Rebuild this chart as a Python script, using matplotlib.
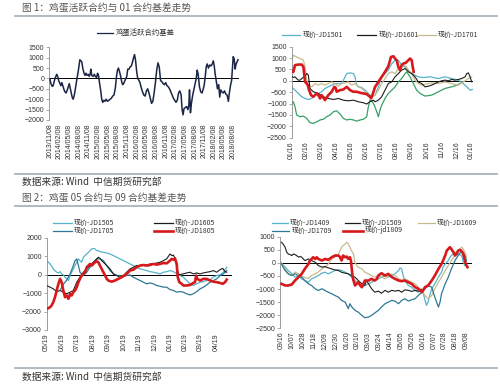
import matplotlib
matplotlib.use('Agg')
import matplotlib.pyplot as plt
from matplotlib.lines import Line2D

plt.rcParams['font.family'] = ['Noto Sans CJK SC', 'DejaVu Sans']

W, H = 500, 386

# ---- figure 1 left: active contract basis (x = months from 2013/11/08)
labels1 = ['2013/11/08', '2014/02/08', '2014/05/08', '2014/08/08', '2014/11/08',
           '2015/02/08', '2015/05/08', '2015/08/08', '2015/11/08', '2016/02/08',
           '2016/05/08', '2016/08/08', '2016/11/08', '2017/02/08', '2017/05/08',
           '2017/08/08', '2017/11/08', '2018/02/08', '2018/05/08', '2018/08/08']
m_active = [0.0, 0.3, 0.7, 1.0, 1.3, 1.7, 2.1, 2.4, 2.7, 3.1, 3.4, 3.7, 4.1, 4.4, 4.7, 5.0,
            5.3, 5.7, 6.0, 6.4, 6.9, 7.2, 7.5, 7.8, 8.3, 8.8, 9.3, 9.6, 9.9, 10.2, 10.6,
            10.9, 11.2, 11.5, 11.9, 12.2, 12.5, 12.7, 13.0, 13.4, 13.8, 14.1, 14.5, 14.8,
            15.1, 15.4, 15.8, 16.1, 16.4, 16.8, 17.1, 17.5, 17.9, 18.3, 18.7, 19.1, 19.5,
            19.9, 20.3, 20.7, 21.0, 21.3, 21.6, 22.0, 22.3, 22.6, 22.9, 23.3, 23.6, 23.9,
            24.2, 24.6, 24.9, 25.3, 25.7, 26.0, 26.3, 26.6, 27.0, 27.3, 27.7, 28.0, 28.4,
            28.8, 29.2, 29.6, 30.0, 30.4, 30.8, 31.2, 31.6, 32.0, 32.4, 32.8, 33.2, 33.6,
            34.0, 34.4, 34.8, 35.2, 35.6, 36.0, 36.4, 36.8, 37.2, 37.6, 38.0, 38.4, 38.8,
            39.2, 39.6, 40.0, 40.4, 40.8, 41.1, 41.4, 41.7, 42.1, 42.5, 42.9, 43.2, 43.4,
            43.7, 44.0, 44.4, 44.8, 45.2, 45.5, 45.8, 46.1, 46.5, 46.9, 47.3, 47.7, 48.0,
            48.3, 48.6, 48.9, 49.3, 49.7, 50.1, 50.5, 50.8, 51.1, 51.4, 51.8, 52.1, 52.5,
            52.8, 53.1, 53.5, 53.9, 54.3, 54.7, 55.1, 55.5, 55.8, 56.2, 56.5, 56.8, 57.0,
            57.3, 57.6, 57.9, 58.2, 58.5]
v_active = [-50, -250, -380, -350, -150, 50, 200, 100, -100, -250, -350, -200, -400, -550,
            -650, -700, -600, -400, -250, -550, -900, -1000, -850, -600, -100, 350, 900, 850,
            800, 500, 250, 150, 250, 150, 200, 100, 200, 450, 150, 100, 200, 100, 50, 250,
            150, -200, -600, -1000, -1150, -1050, -1100, -1000, -1100, -1050, -1000, -950,
            -850, -800, -500, 100, 400, 500, 350, 100, -150, -300, -250, -100, 0, 100, 450,
            450, 550, 600, 800, 1000, 1150, 900, 300, 0, -100, -200, -450, -650, -800, -850,
            -600, -500, -700, -950, -1200, -1100, -700, -200, 400, 750, 550, -100, -150, -250,
            -300, -200, -350, -400, -500, -650, -800, -950, -1050, -1150, -1050, -700, -600,
            -800, -1500, -1750, -1450, -1400, -1350, -1500, -1300, -550, -1650, -1200, -800,
            -500, -200, 0, 400, 200, -400, -650, -700, -500, -300, 100, 550, 700, 500, 650,
            600, 700, 850, 600, 200, -200, -500, -300, -900, -550, -650, -700, -600, -750,
            -800, -1100, -700, -300, -100, 600, 1050, 950, 450, 700, 800, 900]

# ---- figure 1 right: 01 contracts (x = months from 01/16)
labels2 = ['01/16', '02/16', '03/16', '04/16', '05/16', '06/16', '07/16',
           '08/16', '09/16', '10/16', '11/16', '12/16', '01/16']
m_1501 = [0, 0.22, 0.44, 0.67, 0.89, 1.11, 1.33, 1.56, 1.78, 2.0, 2.22, 2.44, 2.67, 2.89,
          3.11, 3.33, 3.56, 3.67, 3.89, 4.11, 4.22, 4.33, 4.44, 4.67, 4.89, 5.11, 5.22,
          5.33, 5.56, 5.78, 6.0, 6.22, 6.44, 6.67, 6.89, 7.11, 7.33, 7.56, 7.78, 8.0, 8.22,
          8.44, 8.78, 9.22, 9.78, 10.22, 10.67, 11.11, 11.44, 11.67, 11.89, 12.05]
v_1501 = [-265, -410, -555, -700, -775, -820, -775, -630, -555, -480, -335, -265, -190,
          -120, -120, -120, 175, 320, 350, 320, 175, -190, -265, -295, -410, -555, -630,
          -700, -630, -265, 175, 320, 470, 760, 905, 905, 690, 610, 470, 320, 250, 175,
          145, 175, 100, 175, 100, 30, -120, -265, -410, -380]
m_1601 = [0, 0.11, 0.22, 0.33, 0.44, 0.56, 0.67, 0.89, 1.0, 1.11, 1.22, 1.44, 1.78, 2.11,
          2.44, 2.78, 3.11, 3.44, 3.78, 4.11, 4.44, 4.78, 5.0, 5.22, 5.44, 5.56, 5.78, 6.0,
          6.22, 6.44, 6.67, 6.89, 7.11, 7.33, 7.56, 7.78, 8.0, 8.22, 8.44, 8.67, 8.89, 9.11,
          9.33, 9.56, 9.78, 10.0, 10.22, 10.44, 10.67, 10.89, 11.11, 11.33, 11.56, 11.67,
          11.78, 11.89, 12.0]
v_1601 = [200, 145, 175, 100, 30, 30, 100, 220, 320, 250, -340, -480, -555, -700, -775,
          -820, -775, -850, -880, -850, -920, -965, -1020, -920, -850, -920, -850, -700,
          -410, -120, -45, 175, 320, 470, 540, 395, 320, 175, -45, -120, -265, -235, -190,
          -120, -45, 0, 30, 0, 60, 30, 60, 100, 175, 320, 350, 175, -45]
m_1701 = [0, 0.11, 0.33, 0.56, 0.78, 0.89, 1.0, 1.11, 1.33, 1.56, 1.78, 2.0, 2.22, 2.44,
          2.67, 2.89, 3.11, 3.33, 3.56, 3.78, 4.0, 4.22, 4.44, 4.67, 4.89, 5.11, 5.33, 5.56,
          5.78, 6.0, 6.22, 6.44, 6.67, 6.89, 7.11, 7.33, 7.56, 7.78, 8.0, 8.22, 8.44, 8.67,
          8.89, 9.33, 9.78, 10.22, 10.67, 11.11, 11.33, 11.56, 11.78, 12.0]
v_1701 = [905, 1120, 1050, 975, 905, 610, 30, -190, -265, -120, -190, -120, -190, -120,
          -45, -120, -235, -120, -90, -45, -190, -120, -235, -335, -480, -630, -730, -630,
          -410, -120, 100, 320, 395, 320, 540, 610, 685, 470, 320, 30, -120, -190, -150,
          -90, -120, -45, -120, -190, -90, 0, 100, 175]
m_green2 = [0, 0.11, 0.22, 0.33, 0.56, 0.78, 1.0, 1.22, 1.44, 1.67, 1.89, 2.11, 2.33, 2.56,
            2.78, 3.0, 3.22, 3.44, 3.67, 3.89, 4.11, 4.33, 4.56, 4.78, 5.0, 5.11, 5.22,
            5.38, 5.51, 5.67, 5.78, 5.89, 6.0, 6.22, 6.44, 6.67, 6.89, 7.11, 7.33, 7.56,
            7.67, 7.89, 8.11, 8.33, 8.56, 8.89, 9.33, 9.78, 10.22, 10.67, 11.0, 11.22, 11.38]
v_green2 = [-990, -920, -1140, -1500, -1580, -1550, -1650, -1840, -1870, -1800, -1720,
            -1690, -1580, -1500, -1360, -1315, -1460, -1650, -1720, -1690, -1720, -1770,
            -1720, -1690, -1580, -1140, -850, -920, -1070, -1360, -1580, -1280, -1070, -775,
            -555, -410, -265, -45, 100, 320, 395, 175, -120, -410, -555, -670, -630, -480,
            -335, -265, -190, -120, -45]
m_red2 = [0, 0.11, 0.22, 0.44, 0.67, 0.78, 0.89, 1.0, 1.07, 1.16, 1.29, 1.44, 1.67, 1.78,
          1.89, 2.0, 2.22, 2.44, 2.67, 2.84, 2.93, 3.0, 3.22, 3.44, 3.67, 3.89, 4.11, 4.33,
          4.56, 4.78, 5.0, 5.22, 5.29, 5.38, 5.56, 5.78, 6.0, 6.22, 6.44, 6.62, 6.78, 6.89,
          7.0, 7.11, 7.22, 7.33, 7.44, 7.6, 7.73, 7.89, 8.0, 8.07, 8.13]
v_red2 = [395, 395, 690, 715, 715, 610, -45, -120, -190, -410, -630, -700, -555, -630,
          -775, -630, -850, -630, -480, -265, -305, -480, -410, -380, -265, -410, -480,
          -480, -525, -555, -585, -700, -775, -630, -265, -45, 175, 395, 640, 1050, 1080,
          980, 905, 610, 470, 685, 760, 790, 875, 980, 905, 610, 395]

# ---- figure 2 left: 05 contracts (x = months from 05/19)
labels3 = ['05/19', '06/19', '07/19', '08/19', '09/19', '10/19',
           '11/19', '12/19', '01/19', '02/19', '03/19', '04/19']
m_1505 = [0, 0.22, 0.43, 0.65, 0.76, 0.87, 0.97, 1.08, 1.19, 1.30, 1.41, 1.52, 1.62, 1.73,
          1.84, 1.95, 2.06, 2.16, 2.27, 2.38, 2.49, 2.60, 2.71, 2.81, 2.92, 3.03, 3.14,
          3.25, 3.35, 3.46, 3.68, 3.90, 4.11, 4.33, 4.55, 4.76, 4.98, 5.19, 5.41, 5.63,
          5.84, 6.06, 6.28, 6.49, 6.71, 6.93, 7.14, 7.36, 7.58, 7.79, 8.01, 8.23, 8.44,
          8.66, 8.87, 9.09, 9.31, 9.52, 9.74, 9.96, 10.17, 10.39, 10.61, 10.82, 11.04,
          11.26, 11.47, 11.69]
v_1505 = [760, 580, 310, 130, 90, 160, 40, -20, -140, -230, -320, -50, 130, 310, 490, 670,
          850, 760, 670, 940, 1030, 1120, 1210, 1300, 1390, 1420, 1390, 1300, 1300, 1240,
          1210, 1170, 1120, 1030, 940, 850, 760, 670, 580, 490, 400, 310, 270, 220, 160,
          130, 90, 40, 130, 160, 220, 160, 40, -50, -140, -320, -500, -590, -500, -410,
          -380, -320, -270, -140, -50, -20, 130, 400]
m_1605 = [0, 0.22, 0.43, 0.65, 0.87, 1.08, 1.30, 1.52, 1.73, 1.95, 2.16, 2.38, 2.60, 2.81,
          3.03, 3.25, 3.35, 3.46, 3.57, 3.68, 3.90, 4.11, 4.33, 4.55, 4.76, 4.98, 5.19,
          5.41, 5.63, 5.84, 6.06, 6.28, 6.49, 6.71, 6.93, 7.14, 7.36, 7.58, 7.79, 7.90,
          8.01, 8.12, 8.23, 8.33, 8.44, 8.55, 8.66, 8.87, 9.09, 9.31, 9.52, 9.74, 9.96,
          10.17, 10.39, 10.61, 10.82, 11.04, 11.26, 11.43, 11.58, 11.69]
v_1605 = [-600, -680, -770, -920, -860, -950, -1040, -950, -860, -410, -140, 130, 310, 490,
          670, 850, 940, 880, 760, 670, 490, 310, 40, -50, -140, -50, 130, 310, 400, 490,
          490, 540, 520, 580, 580, 630, 670, 760, 850, 990, 1120, 1030, 1060, 880, 490, 40,
          0, 40, 90, 130, 40, 90, 40, 90, 130, 160, 220, 130, 270, 340, 160, 130]
m_1705 = [0.9, 1.1, 1.3, 1.5, 1.73, 1.84, 1.95, 2.06, 2.16, 2.38, 2.60, 2.81, 3.03, 3.25,
          3.46, 3.68, 3.90, 4.11, 4.33, 4.55, 4.76, 4.98, 5.19, 5.41, 5.63, 5.84, 6.06,
          6.28, 6.49, 6.71, 6.93, 7.14, 7.36, 7.58, 7.79, 8.01, 8.23, 8.44, 8.66, 8.87,
          9.09, 9.31, 9.52, 9.74, 9.96, 10.17, 10.39, 10.61, 10.82, 11.04, 11.26, 11.47,
          11.69]
v_1705 = [-800, -500, -300, 0, 490, 760, 850, 490, 130, -50, 130, 400, 670, 850, 850, 760,
          490, 220, 40, -50, -50, -110, -50, -20, -140, -230, -320, -410, -500, -450, -500,
          -590, -630, -680, -680, -810, -860, -950, -920, -950, -1040, -1100, -1040, -920,
          -770, -680, -560, -410, -320, -230, -50, 40, 220]
m_1805 = [0, 0.11, 0.22, 0.32, 0.43, 0.54, 0.65, 0.76, 0.87, 0.97, 1.08, 1.19, 1.30, 1.41,
          1.52, 1.62, 1.73, 1.84, 1.95, 2.06, 2.16, 2.27, 2.38, 2.49, 2.60, 2.71, 2.81,
          2.92, 3.03, 3.14, 3.25, 3.35, 3.46, 3.57, 3.68, 3.79, 3.90, 4.00, 4.22, 4.44,
          4.65, 4.87, 5.19, 5.41, 5.63, 5.84, 6.06, 6.28, 6.49, 6.71, 6.93, 7.14, 7.36,
          7.58, 7.79, 8.01, 8.12, 8.23, 8.33, 8.44, 8.51, 8.61, 8.77, 8.87, 9.09, 9.31,
          9.52, 9.63, 9.70, 9.78, 9.96, 10.17, 10.39, 10.61, 10.82, 11.04, 11.26, 11.43,
          11.58, 11.69]
v_1805 = [-1850, -1820, -1760, -1670, -1490, -1220, -860, -500, -230, -410, -860, -1220,
          -1130, -1310, -1040, -1130, -950, -860, -680, -410, -230, -50, 40, 130, 400, 490,
          580, 490, 580, 670, 720, 670, 490, 310, 130, -50, -230, -320, -380, -320, -230,
          -140, 40, 220, 270, 400, 490, 520, 490, 520, 580, 540, 580, 630, 610, 760, 850,
          810, 880, 580, -140, -410, -500, -590, -590, -560, -450, -410, -50, -230, -320,
          -230, -230, -320, -380, -410, -450, -500, -410, -270]

# ---- figure 2 right: 09 contracts (x = days from 09/16)
labels4 = ['09/16', '10/07', '10/28', '11/18', '12/09', '12/30', '01/20', '02/10', '03/03',
           '03/24', '04/14', '05/05', '05/26', '06/16', '07/07', '07/28', '08/18', '09/08']
d_1409 = [0, 7, 13, 20, 26, 33, 39, 45, 52, 58, 65, 71, 78, 84, 90, 97, 103, 110, 116, 123,
          129, 135, 142, 148, 155, 161, 168, 174, 180, 187, 193, 200, 206, 213, 219, 226,
          229, 232, 235, 238, 245, 251, 258, 264, 271, 274, 277, 280, 283, 287, 290, 296,
          303, 309, 312, 316, 319, 322, 325, 328, 335, 341, 348, 351, 354]
v_1409 = [0, -165, -290, -420, -545, -485, -610, -675, -740, -610, -545, -485, -395, -355,
          -420, -355, -290, -265, -290, -355, -420, -545, -675, -800, -930, -865, -800,
          -740, -675, -610, -545, -485, -545, -485, -420, -290, -190, -230, -485, -675,
          -865, -930, -1055, -1120, -990, -1180, -1435, -1625, -1500, -1180, -990, -800,
          -545, -355, -165, -40, 25, 90, 215, 280, 405, 340, 280, 25, -100]
d_1509 = [0, 3, 7, 10, 13, 16, 20, 23, 26, 29, 33, 36, 39, 42, 45, 48, 52, 55, 58, 61, 65,
          68, 71, 78, 84, 90, 97, 103, 110, 116, 123, 129, 135, 142, 148, 155, 161, 164, 168,
          174, 180, 187, 193, 200, 206, 213, 219, 226, 232, 238, 245, 251, 258, 264, 271]
v_1509 = [790, 720, 600, 410, 340, 320, 280, 340, 320, 280, 220, 240, 220, 150, 90, 110,
          150, 110, 90, 60, 25, -40, -100, -165, -140, -190, -230, -270, -290, -360, -395,
          -420, -485, -550, -670, -800, -860, -670, -800, -990, -1120, -1080, -1160, -1050,
          -1120, -1050, -1080, -1050, -1120, -1030, -1050, -1090, -1050, -1080, -1030]
d_1609 = [0, 7, 13, 20, 26, 33, 39, 45, 52, 58, 65, 71, 78, 84, 90, 97, 103, 110, 116, 119,
          123, 126, 129, 132, 135, 139, 142, 148, 155, 161, 168, 174, 180, 187, 193, 200,
          206, 213, 219, 226, 232, 238, 245, 251, 258, 264, 271, 277, 283, 290, 296, 303,
          309, 316, 322, 328, 335, 341, 348, 351, 354, 357]
v_1609 = [-40, -230, -400, -480, -350, -420, -500, -560, -600, -480, -420, -350, -230, -150,
          -50, 150, 215, 340, 600, 660, 725, 790, 725, 600, 470, 340, 0, -165, -230, -355,
          -420, -485, -545, -485, -545, -610, -485, -420, -485, -610, -675, -610, -675,
          -740, -800, -930, -1055, -1245, -1370, -1245, -990, -740, -545, -290, -100, 90,
          280, 470, 600, 530, 405, 215]
d_1709 = [0, 3, 7, 10, 13, 20, 26, 33, 39, 45, 52, 58, 65, 71, 78, 84, 90, 97, 103, 110,
          116, 123, 126, 129, 132, 136, 142, 148, 155, 161, 168, 174, 180, 187, 193, 200,
          206, 213, 219, 226, 232, 238, 245, 251, 258, 264, 271, 277, 283, 290, 296, 303,
          306, 309, 316, 322, 328, 335, 341, 348, 354, 357]
v_1709 = [-40, -165, -290, -355, -420, -485, -420, -485, -545, -675, -800, -865, -990,
          -1055, -990, -1055, -1120, -1180, -1245, -1310, -1435, -1500, -1625, -1750, -1560,
          -1690, -1815, -1880, -2005, -2095, -2070, -2005, -1915, -1815, -1690, -1560, -1500,
          -1435, -1460, -1560, -1435, -1370, -1460, -1410, -1370, -1245, -1120, -990, -865,
          -930, -1310, -1690, -1500, -1180, -800, -545, -230, 90, 280, 470, 280, 90]
d_1809 = [0, 7, 13, 20, 26, 33, 39, 45, 52, 55, 58, 61, 65, 68, 71, 78, 84, 90, 97, 103,
          110, 113, 116, 119, 123, 126, 129, 132, 134, 137, 139, 142, 145, 148, 152, 155,
          158, 161, 168, 174, 180, 184, 187, 193, 200, 206, 213, 219, 226, 232, 238, 245,
          251, 258, 264, 271, 274, 277, 283, 290, 296, 303, 309, 312, 316, 319, 322, 325,
          328, 332, 335, 338, 341, 345, 348, 351, 354, 357, 359]
v_1809 = [-800, -865, -865, -825, -675, -545, -420, -230, -40, 90, 150, 215, 150, 215, 150,
          90, 150, 115, 215, 280, 280, 215, 90, 280, 215, 240, 150, 215, 90, -485, -675,
          -865, -800, -740, -865, -930, -800, -675, -675, -610, -675, -610, -485, -395,
          -485, -420, -545, -610, -675, -700, -675, -740, -800, -930, -990, -1120, -1030,
          -930, -865, -675, -485, -230, -40, 90, 280, 470, 530, 600, 530, 405, 280, 340,
          470, 495, 440, 340, 90, -100, -165]

C_CYAN = '#56b3c9'
C_BLACK = '#1c1c1c'
C_TAN = '#c9b98c'
C_GREEN = '#36a065'
C_TEAL = '#2e7896'
C_RED = '#d7191c'
C_NAVY = '#1b2545'

fig = plt.figure(figsize=(5, 3.86), dpi=100)


def box(l, r, t, b):
    return [l / W, 1 - b / H, (r - l) / W, (b - t) / H]


def style(ax, xlim, ylim, yticks, xticks, xlabels):
    ax.set_xlim(xlim)
    ax.set_ylim(ylim)
    ax.set_yticks(yticks)
    ax.set_xticks(xticks)
    ax.set_xticklabels(xlabels, rotation=90)
    for s in ['top', 'right', 'bottom']:
        ax.spines[s].set_visible(False)
    ax.spines['left'].set_color('#8c8c8c')
    ax.spines['left'].set_linewidth(0.6)
    ax.tick_params(axis='y', length=2, width=0.5, color='#8c8c8c', labelsize=5,
                   pad=1.5, labelcolor='#333333')
    ax.tick_params(axis='x', length=0, labelsize=5, pad=2.5, labelcolor='#333333')
    for lab in ax.get_xticklabels() + ax.get_yticklabels():
        lab.set_fontfamily('Liberation Sans')
    ax.axhline(0, color='black', lw=0.7, zorder=1)
    ax.patch.set_alpha(0)


def legend_item(x0, x1, y, color, lw, label, tx, size=5):
    fig.add_artist(Line2D([x0 / W, x1 / W], [1 - y / H, 1 - y / H], color=color, lw=lw,
                          transform=fig.transFigure))
    fig.text(tx / W, 1 - y / H, label, fontsize=size, va='center', ha='left', color='#333333')


def hline(y):
    fig.add_artist(Line2D([15 / W, 497 / W], [1 - y / H, 1 - y / H], color='#a9b3bb', lw=1.3,
                          transform=fig.transFigure))


# page headings and separators
fig.text(22 / W, 1 - 7.5 / H, '图 1：鸡蛋活跃合约与 01 合约基差走势', fontsize=7, color='#555555',
         va='center', ha='left')
hline(15.5)
hline(173.5)
fig.text(22 / W, 1 - 182 / H, '数据来源: Wind  中信期货研究部', fontsize=7, color='#333333',
         va='center', ha='left')
fig.text(22 / W, 1 - 197.5 / H, '图 2：鸡蛋 05 合约与 09 合约基差走势', fontsize=7, color='#555555',
         va='center', ha='left')
hline(205.5)
hline(368)
fig.text(22 / W, 1 - 376.5 / H, '数据来源: Wind  中信期货研究部', fontsize=7, color='#333333',
         va='center', ha='left')

# chart 1
ax1 = fig.add_axes(box(49, 239, 47.3, 120))
ax1.plot(m_active, v_active, color=C_NAVY, lw=1.1, zorder=3)
style(ax1, (-0.3, 58.8), (-2000, 1500), range(-2000, 1501, 500), range(0, 58, 3), labels1)
legend_item(97, 113, 33, C_NAVY, 0.9, '鸡蛋活跃合约基差', 116, size=5.3)

# chart 2
ax2 = fig.add_axes(box(291.7, 473.2, 46.7, 137.7))
ax2.plot(m_green2, v_green2, color=C_GREEN, lw=0.9, zorder=2)
ax2.plot(m_1501, v_1501, color=C_CYAN, lw=0.9, zorder=2)
ax2.plot(m_1701, v_1701, color=C_TAN, lw=0.9, zorder=2)
ax2.plot(m_1601, v_1601, color=C_BLACK, lw=0.8, zorder=3)
ax2.plot(m_red2, v_red2, color=C_RED, lw=1.9, zorder=4)
style(ax2, (0, 12.1), (-2500, 1500), range(-2500, 1501, 500), range(0, 13), labels2)
legend_item(282, 300, 35, C_CYAN, 0.9, '现价-JD1501', 303)
legend_item(357, 376, 35, C_BLACK, 0.9, '现价-JD1601', 379)
legend_item(418, 436, 35, C_TAN, 0.9, '现价-JD1701', 438)

# chart 3
ax3 = fig.add_axes(box(46.7, 231.5, 237.7, 330))
ax3.plot(m_1505, v_1505, color=C_CYAN, lw=0.9, zorder=2)
ax3.plot(m_1705, v_1705, color=C_TEAL, lw=0.9, zorder=2)
ax3.plot(m_1605, v_1605, color=C_BLACK, lw=0.8, zorder=3)
ax3.plot(m_1805, v_1805, color=C_RED, lw=1.9, zorder=4)
style(ax3, (0, 12.0), (-3000, 2000), range(-3000, 2001, 1000), range(0, 12), labels3)
legend_item(53, 72, 223, C_CYAN, 0.9, '现价-JD1505', 74)
legend_item(154, 173, 223, C_BLACK, 0.9, '现价-JD1605', 175)
legend_item(53, 72, 231, C_TEAL, 0.9, '现价-JD1705', 74)
legend_item(154, 173, 231, C_RED, 1.9, '现价-JD1805', 175)

# chart 4
ax4 = fig.add_axes(box(280, 471.6, 236.7, 328.3))
ax4.plot(d_1409, v_1409, color=C_CYAN, lw=0.9, zorder=2)
ax4.plot(d_1609, v_1609, color=C_TAN, lw=0.9, zorder=2)
ax4.plot(d_1709, v_1709, color=C_TEAL, lw=0.9, zorder=2)
ax4.plot(d_1509, v_1509, color=C_BLACK, lw=0.8, zorder=3)
ax4.plot(d_1809, v_1809, color=C_RED, lw=1.9, zorder=4)
style(ax4, (-2.9, 367), (-2500, 1000), range(-2500, 1001, 500), range(0, 358, 21), labels4)
legend_item(272, 288, 223, C_CYAN, 0.9, '现价-JD1409', 290)
legend_item(345, 360, 223, C_BLACK, 0.9, '现价-JD1509', 362)
legend_item(418, 435, 223, C_TAN, 0.9, '现价-JD1609', 437)
legend_item(272, 289, 230.5, C_TEAL, 0.9, '现价-JD1709', 292)
legend_item(343, 363, 230.5, C_RED, 1.9, '现价-jd1809', 365)

fig.savefig('out.png', dpi=100)
